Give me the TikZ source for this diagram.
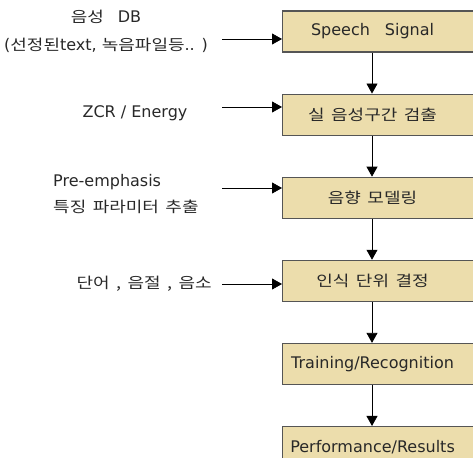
\documentclass[tikz,border=0pt]{standalone}
\usepackage{fontspec}
\setmainfont{DejaVu Sans}
\newfontfamily\kr[FakeStretch=1.2,WordSpace=1.6]{Noto Sans CJK KR}
\usetikzlibrary{positioning,arrows.meta}
\definecolor{boxfill}{RGB}{236,221,172}
\definecolor{boxline}{RGB}{85,85,85}
\definecolor{ink}{RGB}{40,40,40}
\newcommand{\boxtxt}[1]{\makebox[180pt]{#1}\hspace*{40pt}}
\newcommand{\ko}[1]{{\fontsize{15}{17}\kr #1}}
\begin{document}
\begin{tikzpicture}[
    x=1pt, y=-1pt,
    node distance=41pt,
    stage/.style={rectangle,draw=boxline,fill=boxfill,line width=1.1pt,minimum height=41pt,inner xsep=0pt,text=ink,font=\fontsize{16}{18}\selectfont},
    input/.style={font=\fontsize{16}{28}\selectfont,text=ink,inner sep=0pt},
    arr/.style={-{Triangle[length=10pt,width=11pt]},line width=0.8pt}
]
    \useasboundingbox (0,0) rectangle (473,457);
    \clip (0,0) rectangle (473,457);

    % Define nodes
    \node[stage,anchor=west] (sig) at (282,31.5) {\boxtxt{Speech\hspace{15pt}Signal}};
    \node[stage] (vad) [below=of sig] {\boxtxt{\ko{실 음성구간 검출}}};
    \node[stage] (am) [below=of vad] {\boxtxt{\ko{음향 모델링}}};
    \node[stage] (unit) [below=of am] {\boxtxt{\ko{인식 단위 결정}}};
    \node[stage] (train) [below=of unit] {\boxtxt{Training/Recognition}};
    \node[stage] (res) [below=of train] {\boxtxt{Performance/Results}};

    \node[input,align=center] (db) at (106,31) {\ko{음성}\hspace{14pt}DB\\(\ko{선정된}text, \ko{녹음파일등}.. )};
    \node[input] (zcr) at (135,113) {ZCR / Energy};
    \node[input,align=left,anchor=west,font=\fontsize{16}{26}\selectfont] (pre) at (53,194) {Pre-emphasis\\\ko{특징 파라미터 추출}};
    \node[input,anchor=east] (lex) at (212,284) {\ko{단어 , 음절 , 음소}};

    \coordinate (t1) at (222,39);
    \coordinate (t2) at (222,107);
    \coordinate (t3) at (222,188);
    \coordinate (t4) at (222,284);

    % Draw arrows and connections
    \draw[arr] (t1) -- (t1 -| sig.west);
    \draw[arr] (t2) -- (t2 -| vad.west);
    \draw[arr] (t3) -- (t3 -| am.west);
    \draw[arr] (t4) -- (t4 -| unit.west);

    \draw[arr] ([xshift=90pt]sig.south west) -- ([xshift=90pt]vad.north west);
    \draw[arr] ([xshift=90pt]vad.south west) -- ([xshift=90pt]am.north west);
    \draw[arr] ([xshift=90pt]am.south west) -- ([xshift=90pt]unit.north west);
    \draw[arr] ([xshift=90pt]unit.south west) -- ([xshift=90pt]train.north west);
    \draw[arr] ([xshift=90pt]train.south west) -- ([xshift=90pt]res.north west);
\end{tikzpicture}
\end{document}
